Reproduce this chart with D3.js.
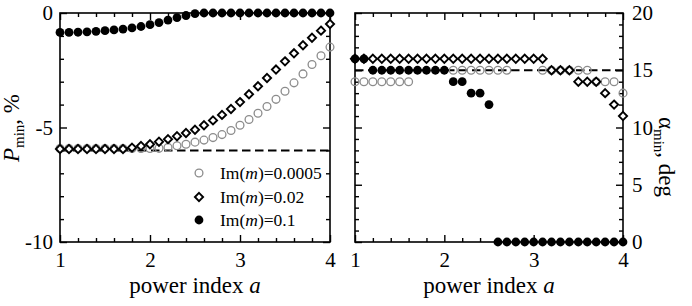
<!DOCTYPE html>
<html><head><meta charset="utf-8">
<script src="https://cdn.jsdelivr.net/npm/d3@7"></script>
<style>
body{margin:0;background:#fff}
text{font-family:"Liberation Serif","Times New Roman",serif;fill:#000}
</style>
</head><body>
<svg id="chart" width="692" height="306"></svg>
<script>
// ---------- data ----------
const powerIndex = [1.0,1.1,1.2,1.3,1.4,1.5,1.6,1.7,1.8,1.9,2.0,2.1,2.2,2.3,2.4,2.5,2.6,2.7,2.8,2.9,3.0,3.1,3.2,3.3,3.4,3.5,3.6,3.7,3.8,3.9,4.0];

const seriesNames = ["0.0005","0.02","0.1"];

// P_min, % (left panel)
const pmin0005 = [-5.92,-5.92,-5.92,-5.92,-5.92,-5.92,-5.92,-5.92,-5.92,-5.92,-5.92,-5.91,-5.87,-5.8,-5.73,-5.64,-5.55,-5.44,-5.31,-5.13,-4.9,-4.65,-4.38,-4.08,-3.77,-3.42,-3.05,-2.66,-2.25,-1.87,-1.49];
const pmin002  = [-5.94,-5.94,-5.94,-5.94,-5.94,-5.94,-5.94,-5.94,-5.88,-5.81,-5.73,-5.62,-5.51,-5.38,-5.24,-5.1,-4.9,-4.69,-4.45,-4.19,-3.89,-3.55,-3.2,-2.84,-2.47,-2.11,-1.76,-1.41,-1.08,-0.77,-0.48];
const pmin01   = [-0.85,-0.85,-0.84,-0.82,-0.8,-0.77,-0.74,-0.7,-0.65,-0.59,-0.51,-0.42,-0.31,-0.2,-0.11,-0.03,0,0,0,0,0,0,0,0,0,0,0,0,0,0,0];
const pminRef = -6;

// alpha_min, deg (right panel); null = not visible
const alpha0005 = [14,14,14,14,14,14,14,null,null,null,null,15,15,15,15,15,15,15,null,null,null,15,15,15,15,15,15,14,14,14,13];
const alpha002  = [16,16,16,16,16,16,16,16,16,16,16,16,16,16,16,16,16,16,16,16,16,16,15,15,15,14,14,14,13,12,11];
const alpha01   = [16,16,15,15,15,15,15,15,15,15,15,14,14,13,13,12,0,0,0,0,0,0,0,0,0,0,0,0,0,0,0];
const alphaRef = 15;

const xTicks = [1,2,3,4];
const leftYTicks = [0,-5,-10];
const rightYTicks = [0,5,10,15,20];

// ---------- layout ----------
const svg = d3.select("#chart");
const plotTop = 13, plotBottom = 242;
const panels = [
  {x0:60, x1:330, domain:[-10,0], ticks:leftYTicks, side:"left",
   s:[pmin0005,pmin002,pmin01], ref:pminRef},
  {x0:355, x1:623, domain:[0,20], ticks:rightYTicks, side:"right",
   s:[alpha0005,alpha002,alpha01], ref:alphaRef}
];

const diamond = r => `M0,${-r}L${r},0L0,${r}L${-r},0Z`;

function drawMarkers(g, x, y, vals, kind){
  const pts = powerIndex.map((a,i)=>({a, v:vals[i]})).filter(d=>d.v!==null);
  if(kind===0){
    g.selectAll(null).data(pts).join("circle")
      .attr("cx",d=>x(d.a)).attr("cy",d=>y(d.v)).attr("r",3.9)
      .attr("fill","none").attr("stroke","#8c8c8c").attr("stroke-width",1.3);
  } else if(kind===1){
    g.selectAll(null).data(pts).join("path")
      .attr("transform",d=>`translate(${x(d.a)},${y(d.v)})`)
      .attr("d",diamond(4.1))
      .attr("fill","#fff").attr("stroke","#000").attr("stroke-width",1.9);
  } else {
    g.selectAll(null).data(pts).join("circle")
      .attr("cx",d=>x(d.a)).attr("cy",d=>y(d.v)).attr("r",4.4)
      .attr("fill","#000");
  }
}

panels.forEach(p=>{
  const x = d3.scaleLinear().domain([1,4]).range([p.x0,p.x1]);
  const y = d3.scaleLinear().domain(p.domain).range([plotBottom,plotTop]);
  const g = svg.append("g");

  const minorX = d3.range(10,41,2).map(v=>v/10).filter(v=>!xTicks.includes(v));
  const yMin = d3.range(p.domain[0],p.domain[1]+1,1).filter(v=>!p.ticks.includes(v));

  g.append("g").attr("transform",`translate(0,${plotBottom})`)
    .call(d3.axisBottom(x).tickValues(xTicks).tickSize(-7).tickPadding(10).tickFormat(d3.format("d")));
  g.append("g").attr("transform",`translate(0,${plotBottom})`)
    .call(d3.axisBottom(x).tickValues(minorX).tickSize(-4).tickFormat(""));
  g.append("g").attr("transform",`translate(0,${plotTop})`)
    .call(d3.axisTop(x).tickValues(xTicks).tickSize(-7).tickFormat(""));
  g.append("g").attr("transform",`translate(0,${plotTop})`)
    .call(d3.axisTop(x).tickValues(minorX).tickSize(-4).tickFormat(""));

  g.append("g").attr("transform",`translate(${p.x0},0)`)
    .call((p.side==="left"
      ? d3.axisLeft(y).tickValues(p.ticks).tickPadding(7).tickFormat(d=>String(d))
      : d3.axisLeft(y).tickValues(p.ticks).tickFormat("")).tickSize(-7));
  g.append("g").attr("transform",`translate(${p.x0},0)`)
    .call(d3.axisLeft(y).tickValues(yMin).tickSize(-4).tickFormat(""));
  g.append("g").attr("transform",`translate(${p.x1},0)`)
    .call((p.side==="right"
      ? d3.axisRight(y).tickValues(p.ticks).tickPadding(9).tickFormat(d3.format("d"))
      : d3.axisRight(y).tickValues(p.ticks).tickFormat("")).tickSize(-7));
  g.append("g").attr("transform",`translate(${p.x1},0)`)
    .call(d3.axisRight(y).tickValues(yMin).tickSize(-4).tickFormat(""));

  g.selectAll(".domain").remove();
  g.selectAll(".tick line").attr("stroke","#000").attr("stroke-width",1.4);
  g.selectAll(".tick text").attr("font-size",21).attr("font-family","'Liberation Serif',serif").attr("fill","#000");

  // reference dashed line
  g.append("line").attr("x1",x(1)).attr("x2",x(4)).attr("y1",y(p.ref)).attr("y2",y(p.ref))
    .attr("stroke","#000").attr("stroke-width",2).attr("stroke-dasharray","8.5,4.5");

  // frame
  g.append("rect").attr("x",p.x0).attr("y",plotTop).attr("width",p.x1-p.x0).attr("height",plotBottom-plotTop)
    .attr("fill","none").attr("stroke","#000").attr("stroke-width",1.6);

  p.s.forEach((vals,k)=>drawMarkers(g,x,y,vals,k));

  const xt = g.append("text").attr("x",(p.x0+p.x1)/2).attr("y",293)
    .attr("text-anchor","middle").attr("font-size",23);
  xt.append("tspan").text("power index ");
  xt.append("tspan").attr("font-style","italic").text("a");
});

// left y title
const lt = svg.append("text").attr("transform","translate(19,128) rotate(-90)")
  .attr("text-anchor","middle").attr("font-size",23);
lt.append("tspan").attr("font-style","italic").text("P");
lt.append("tspan").attr("font-size",15).attr("dy",5).text("min");
lt.append("tspan").attr("dy",-5).text(", %");

// right y title
const rt = svg.append("text").attr("transform","translate(659,157) rotate(90)")
  .attr("text-anchor","middle").attr("font-size",23);
rt.append("tspan").text("α");
rt.append("tspan").attr("font-size",15).attr("dy",5).text("min");
rt.append("tspan").attr("dy",-5).text(", deg");

// legend
const legend = svg.append("g");
const legX = 199, legY = [173,197,220];
seriesNames.forEach((name,k)=>{
  const cy = legY[k];
  if(k===0) legend.append("circle").attr("cx",legX).attr("cy",cy).attr("r",3.9).attr("fill","none").attr("stroke","#8c8c8c").attr("stroke-width",1.3);
  else if(k===1) legend.append("path").attr("transform",`translate(${legX},${cy})`).attr("d",diamond(4.1)).attr("fill","#fff").attr("stroke","#000").attr("stroke-width",1.9);
  else legend.append("circle").attr("cx",legX).attr("cy",cy).attr("r",4.4).attr("fill","#000");
  const t = legend.append("text").attr("x",220).attr("y",cy).attr("dy","0.35em").attr("font-size",17.5);
  t.append("tspan").text("Im(");
  t.append("tspan").attr("font-style","italic").text("m");
  t.append("tspan").text(")=" + name);
});
</script>
</body></html>
